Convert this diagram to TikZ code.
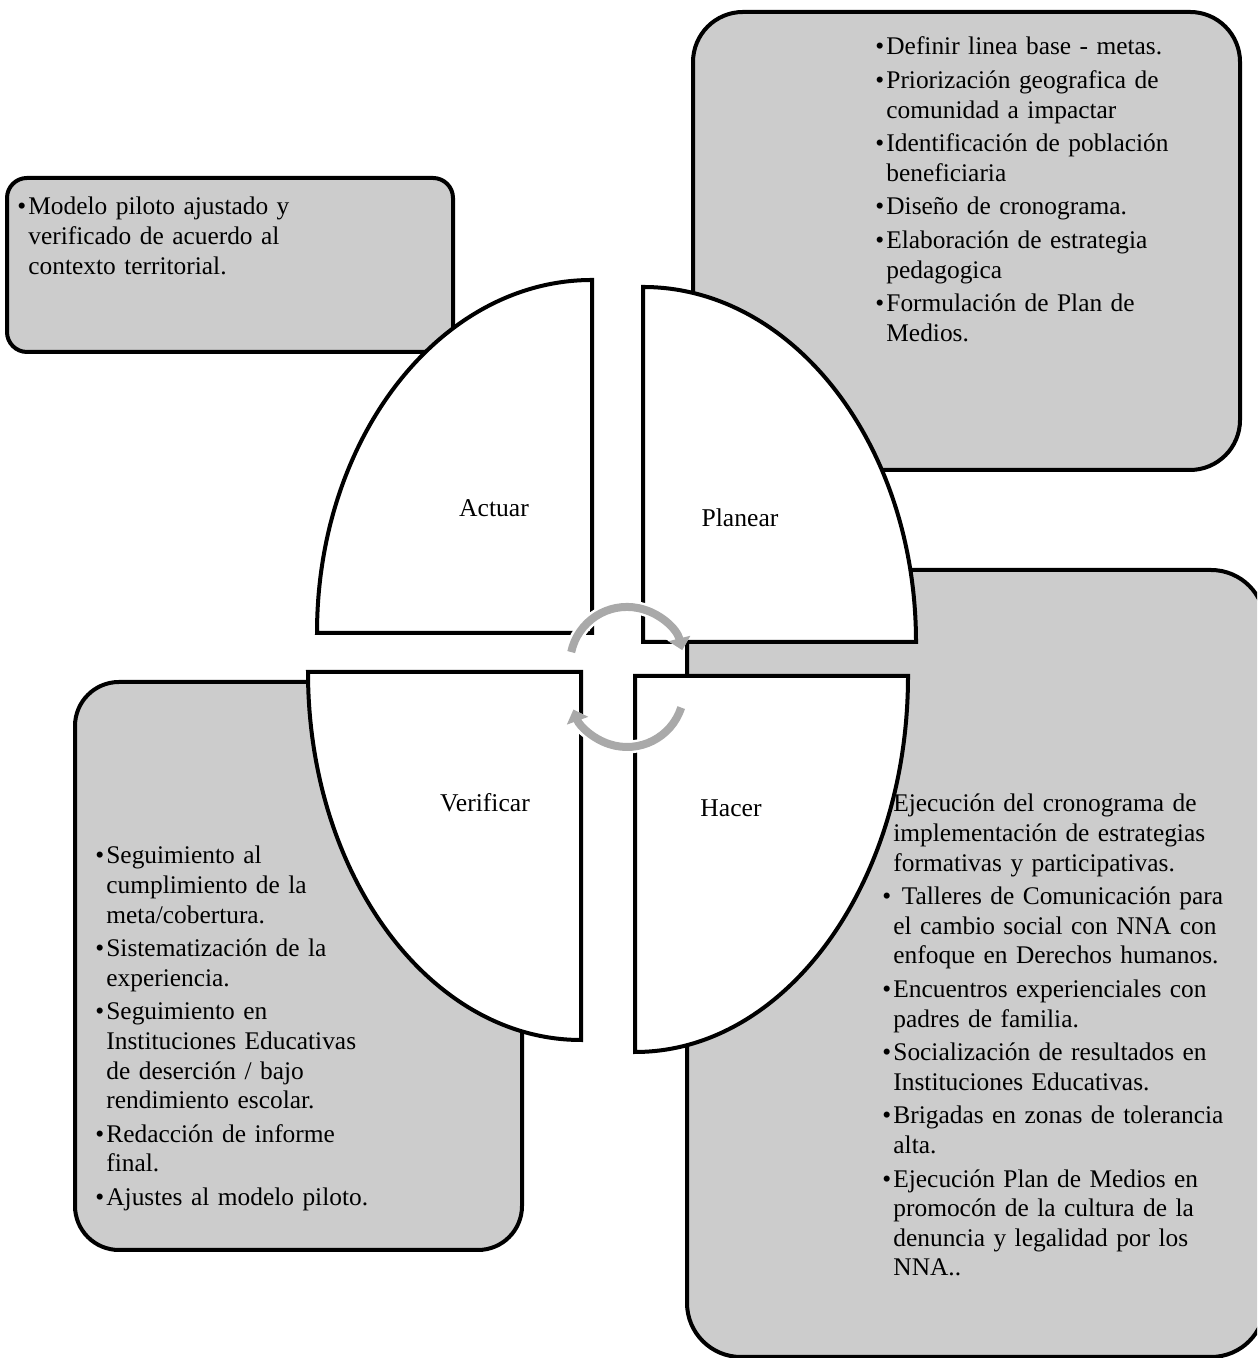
\documentclass[tikz,border=0pt]{standalone}
\usepackage{fontspec}
\setmainfont{Liberation Serif}
\usetikzlibrary{arrows.meta}

\definecolor{gris}{HTML}{CCCCCC}
\definecolor{flecha}{HTML}{A9A9A9}

\newcommand\bitem[1]{\par\hangindent=5.5pt\hangafter=1\noindent\makebox[5.5pt][l]{\textbullet}#1}

\tikzset{
  caja/.style={draw=black,line width=2pt,fill=gris,rounded corners=#1},
  cuadrante/.style={draw=black,line width=2pt,fill=white,line join=miter},
  etiqueta/.style={inner sep=0pt,font=\fontsize{12.8}{15}\selectfont},
  lista/.style={anchor=north west,inner sep=0pt,text width=180pt,
    font=\fontsize{12.7}{14.8}\selectfont,
    execute at begin node={\raggedright\setlength{\parskip}{2pt}}},
  halo/.style={draw=white,line width=6.5pt,-{Triangle[width=14pt,length=8pt]}},
  ciclo/.style={draw=flecha,line width=4pt,-{Triangle[width=11pt,length=6pt]}}
}

\begin{document}
\begin{tikzpicture}[x=0.5pt,y=0.5pt]
   \useasboundingbox (0,0) rectangle (1257,1358);
   \clip (0,0) rectangle (1257,1358);

   % cajas grises
   \draw[caja=10pt] (7,1006) rectangle (453,1180);
   \draw[caja=25pt] (693,888) rectangle (1240,1346);
   \draw[caja=27pt] (687,1) rectangle (1265,788);
   \draw[caja=22pt] (75,108) rectangle (522,676);

   % textos
   \node[lista] (tActuar) at (17,1177) {%
     \bitem{Modelo piloto ajustado y\newline verificado de acuerdo al\newline contexto territorial.}\par};
   \node[lista] (tPlanear) at (875,1337) {%
     \bitem{Definir linea base - metas.}
     \bitem{Priorización geografica de\newline comunidad a impactar}
     \bitem{Identificación de población\newline beneficiaria}
     \bitem{Diseño de cronograma.}
     \bitem{Elaboración de estrategia\newline pedagogica}
     \bitem{Formulación de Plan de\newline Medios.}\par};
   \node[lista] (tHacer) at (882,580) {%
     \bitem{Ejecución del cronograma de\newline implementación de estrategias\newline formativas y participativas.}
     \bitem{\ Talleres de Comunicación para\newline el cambio social con NNA con\newline enfoque en Derechos humanos.}
     \bitem{Encuentros experienciales con\newline padres de familia.}
     \bitem{Socialización de resultados en\newline Instituciones Educativas.}
     \bitem{Brigadas en zonas de tolerancia\newline alta.}
     \bitem{Ejecución Plan de Medios en\newline promocón de la cultura de la\newline denuncia y legalidad por los\newline NNA..}\par};
   \node[lista] (tVerificar) at (95,528) {%
     \bitem{Seguimiento al\newline cumplimiento de la\newline meta/cobertura.}
     \bitem{Sistematización de la\newline experiencia.}
     \bitem{Seguimiento en\newline Instituciones Educativas\newline de deserción / bajo\newline rendimiento escolar.}
     \bitem{Redacción de informe\newline final.}
     \bitem{Ajustes al modelo piloto.}\par};

   % cuadrantes
   \draw[cuadrante] (592,725) -- (317,725) arc[start angle=180,end angle=90,x radius=275,y radius=353] -- cycle;
   \draw[cuadrante] (643,716) -- (643,1071) arc[start angle=90,end angle=0,x radius=273,y radius=355] -- cycle;
   \draw[cuadrante] (581,686) -- (308,686) arc[start angle=180,end angle=270,x radius=273,y radius=368] -- cycle;
   \draw[cuadrante] (635,682) -- (908,682) arc[start angle=0,end angle=-90,x radius=273,y radius=376] -- cycle;

   \node[etiqueta] (Actuar) at (494,850) {Actuar};
   \node[etiqueta] (Planear) at (740,840) {Planear};
   \node[etiqueta] (Verificar) at (485,555) {Verificar};
   \node[etiqueta] (Hacer) at (731,550) {Hacer};

   % flechas del ciclo
   \draw[halo] (571.2,705.9) arc[start angle=168,end angle=14,radius=57];
   \draw[ciclo] (571.2,705.9) arc[start angle=168,end angle=14,radius=57];
   \draw[halo] (681.2,650.4) arc[start angle=-18,end angle=-160,radius=57];
   \draw[ciclo] (681.2,650.4) arc[start angle=-18,end angle=-160,radius=57];

\end{tikzpicture}
\end{document}
